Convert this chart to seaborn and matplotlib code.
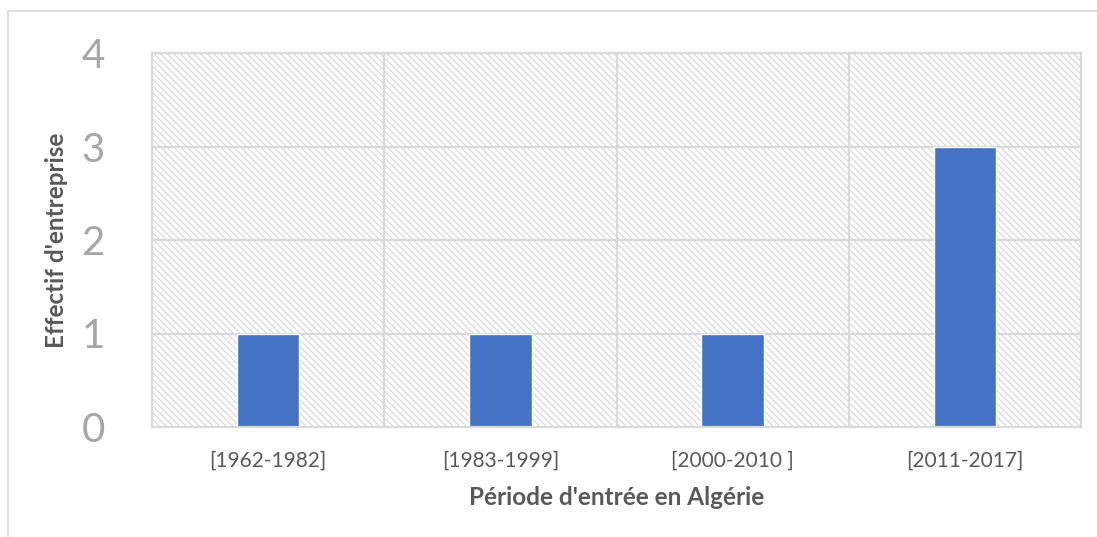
"""Bar chart: effectif d'entreprise par période d'entrée en Algérie."""

import matplotlib

matplotlib.use("Agg")
import matplotlib.pyplot as plt
import pandas as pd
import seaborn as sns
from matplotlib.lines import Line2D
from matplotlib.patches import Rectangle

periods = ["[1962-1982]", "[1983-1999]", "[2000-2010 ]", "[2011-2017]"]
counts = [1, 1, 1, 3]
y_ticks = [0, 1, 2, 3, 4]

BAR_COLOR = "#4472c4"
GRID_COLOR = "#d9d9d9"
TEXT_COLOR = "#595959"

sns.set_theme(style="white")
plt.rcParams["font.family"] = ["Lato", "DejaVu Sans"]
plt.rcParams["hatch.linewidth"] = 0.8

df = pd.DataFrame({"period": periods, "count": counts})

fig = plt.figure(figsize=(10.97, 5.37), dpi=100)
ax = fig.add_axes([152 / 1097, 1 - 427 / 537, (1081 - 152) / 1097, (427 - 53) / 537])

# hatched plot area background
ax.add_patch(
    Rectangle(
        (0, 0), 1, 1, transform=ax.transAxes, facecolor="white",
        edgecolor="#d6d6d6", hatch="\\\\\\\\\\", linewidth=0, zorder=0,
    )
)

sns.barplot(data=df, x="period", y="count", color=BAR_COLOR, width=0.27,
            saturation=1, ax=ax, zorder=3)

ax.set_ylim(0, 4)
ax.set_xlim(-0.5, len(periods) - 0.5)
ax.set_yticks(y_ticks)
ax.set_yticklabels([str(t) for t in y_ticks])

# gridlines: horizontal at ticks, vertical between categories
for t in y_ticks[1:]:
    ax.axhline(t, color=GRID_COLOR, linewidth=1.6, zorder=2)
for b in range(1, len(periods)):
    ax.axvline(b - 0.5, color=GRID_COLOR, linewidth=1.6, zorder=2)

for side in ["top", "right", "left", "bottom"]:
    ax.spines[side].set_visible(True)
    ax.spines[side].set_color(GRID_COLOR)
    ax.spines[side].set_linewidth(1.6)
    ax.spines[side].set_zorder(4)

ax.tick_params(axis="y", labelsize=29, labelcolor="#a6a6a6", length=0, pad=34)
ax.tick_params(axis="x", labelsize=15, labelcolor=TEXT_COLOR, length=0, pad=17)

ax.set_xlabel("Période d'entrée en Algérie", fontsize=17.5, fontweight="bold",
              color=TEXT_COLOR, labelpad=11)
ax.set_ylabel("Effectif d'entreprise", fontsize=17.5, fontweight="bold",
              color=TEXT_COLOR, labelpad=10)

# outer chart border (cropped at right/bottom)
fig.add_artist(Line2D([8 / 1097, 8 / 1097], [0, 1 - 11 / 537],
                      transform=fig.transFigure, color=GRID_COLOR, linewidth=1.2))
fig.add_artist(Line2D([8 / 1097, 1], [1 - 11 / 537, 1 - 11 / 537],
                      transform=fig.transFigure, color=GRID_COLOR, linewidth=1.2))

fig.savefig("out.png", dpi=100)
